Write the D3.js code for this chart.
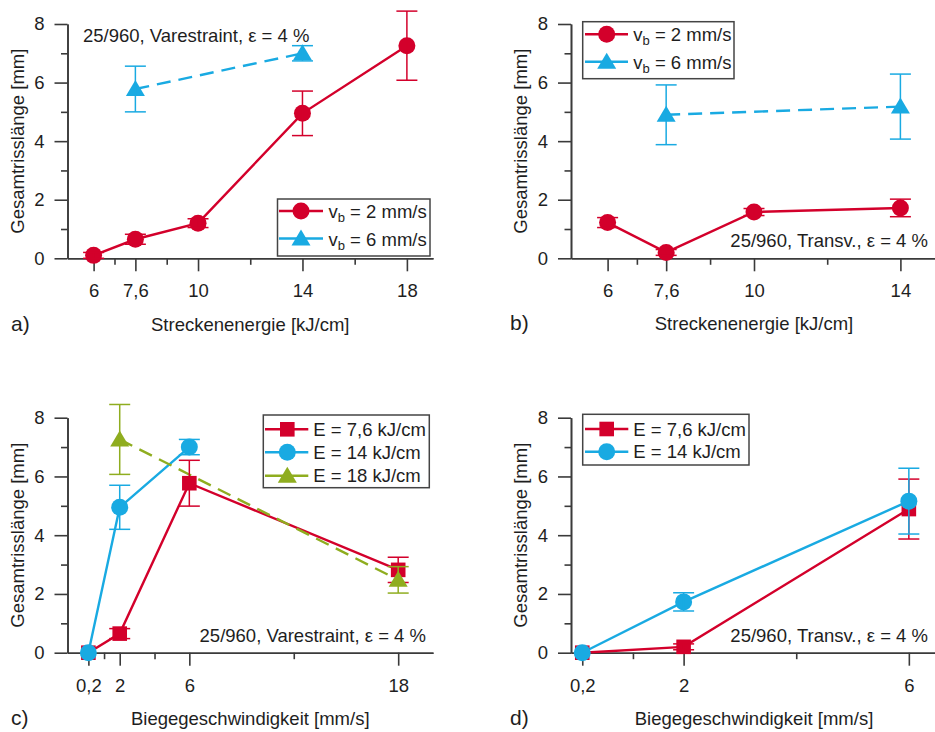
<!DOCTYPE html>
<html><head><meta charset="utf-8">
<script src="https://cdn.jsdelivr.net/npm/d3@7"></script>
<style>
body{margin:0;background:#fff}
svg{display:block}
text{font-family:"Liberation Sans",Arial,Helvetica,sans-serif;fill:#1e1e1e}
</style>
</head><body>
<svg id="chart" width="935" height="732"></svg>
<script>
// ---------------- DATA ----------------
// Y axis (all panels)
const yMajorTicks = [0, 2, 4, 6, 8];
const yMinorTicks = [1, 3, 5, 7];

// Panel a) Varestraint, x = Streckenenergie
const xTicksA = [6, 7.6, 10, 14, 18];
const xLabelsA = ["6", "7,6", "10", "14", "18"];
const energyA_vb2 = [6, 7.6, 10, 14, 18];
const lenA_vb2 = [0.1, 0.65, 1.2, 4.95, 7.26];
const errA_vb2 = [0.1, 0.17, 0.15, 0.76, 1.18];
const energyA_vb6 = [7.6, 14];
const lenA_vb6 = [5.78, 7.0];
const errA_vb6 = [0.78, 0.26];

// Panel b) Transv., x = Streckenenergie
const xTicksB = [6, 7.6, 10, 14];
const xLabelsB = ["6", "7,6", "10", "14"];
const energyB_vb2 = [6, 7.6, 10, 14];
const lenB_vb2 = [1.22, 0.2, 1.58, 1.72];
const errB_vb2 = [0.17, 0.1, 0.12, 0.3];
const energyB_vb6 = [7.6, 14];
const lenB_vb6 = [4.9, 5.18];
const errB_vb6 = [1.02, 1.11];

// Panel c) Varestraint, x = Biegegeschwindigkeit
const xTicksC = [0.2, 2, 6, 18];
const xLabelsC = ["0,2", "2", "6", "18"];
const speedC_E76 = [0.2, 2, 6, 18];
const lenC_E76 = [0, 0.65, 5.77, 2.82];
const errC_E76 = [0, 0.17, 0.78, 0.43];
const speedC_E14 = [0.2, 2, 6];
const lenC_E14 = [0, 4.95, 7.0];
const errC_E14 = [0, 0.75, 0.26];
const speedC_E18 = [2, 18];
const lenC_E18 = [7.26, 2.48];
const errC_E18 = [1.19, 0.45];

// Panel d) Transv., x = Biegegeschwindigkeit
const xTicksD = [0.2, 2, 6];
const xLabelsD = ["0,2", "2", "6"];
const speedD_E76 = [0.2, 2, 6];
const lenD_E76 = [0, 0.2, 4.89];
const errD_E76 = [0, 0.1, 1.02];
const speedD_E14 = [0.2, 2, 6];
const lenD_E14 = [0, 1.73, 5.16];
const errD_E14 = [0, 0.31, 1.12];

// Texts
const yTitle = "Gesamtrisslänge [mm]";
const xTitleE = "Streckenenergie [kJ/cm]";
const xTitleV = "Biegegeschwindigkeit [mm/s]";
const noteVar = "25/960, Varestraint, ε = 4 %";
const noteTra = "25/960, Transv., ε = 4 %";

// ---------------- STYLE ----------------
const RED = "#d3002b", BLUE = "#19aae2", GREEN = "#8fad1f";
const AXIS = "#3a3a3a";
const FS = 18.5;

const svg = d3.select("#chart");
svg.append("rect").attr("width", 935).attr("height", 732).attr("fill", "#fff");

function zip(xs, ys, es) { return xs.map((x, i) => ({ x, y: ys[i], e: es[i] })); }

function marker(g, shape, color, cx, cy) {
  if (shape === "circle") {
    g.append("circle").attr("cx", cx).attr("cy", cy).attr("r", 8.5).attr("fill", color);
  } else if (shape === "square") {
    g.append("rect").attr("x", cx - 7.3).attr("y", cy - 7.3).attr("width", 14.6).attr("height", 14.6).attr("fill", color);
  } else {
    const w = 9.5, h = 16;
    g.append("path").attr("d", `M${cx},${cy - h / 2 - 1}L${cx + w},${cy + h / 2 - 1}L${cx - w},${cy + h / 2 - 1}Z`).attr("fill", color);
  }
}

function panel(cfg) {
  const g = svg.append("g");
  const x = d3.scaleLinear().domain(cfg.xDomain).range([cfg.left, cfg.right]);
  const y = d3.scaleLinear().domain([0, 8]).range([cfg.bottom, cfg.top]);

  // axes
  const styleAxis = sel => {
    sel.selectAll("path, line").attr("stroke", AXIS).attr("stroke-width", 1.6);
    sel.selectAll("text").attr("font-size", FS).attr("fill", "#1e1e1e")
      .style("font-family", '"Liberation Sans", Arial, sans-serif');
  };
  const xMinor = d3.pairs(cfg.xTicks).map(([a, b]) => (a + b) / 2);
  g.append("g").attr("transform", `translate(0,${cfg.bottom})`)
    .call(d3.axisBottom(x).tickValues(xMinor).tickSize(6.5).tickSizeOuter(0).tickFormat(""))
    .call(styleAxis);
  g.append("g").attr("transform", `translate(0,${cfg.bottom})`)
    .call(d3.axisBottom(x).tickValues(cfg.xTicks).tickSize(13).tickSizeOuter(0).tickPadding(13)
      .tickFormat((d, i) => cfg.xLabels[i]))
    .call(styleAxis);
  g.append("g").attr("transform", `translate(${cfg.left},0)`)
    .call(d3.axisLeft(y).tickValues(yMinorTicks).tickSize(6.5).tickSizeOuter(0).tickFormat(""))
    .call(styleAxis);
  g.append("g").attr("transform", `translate(${cfg.left},0)`)
    .call(d3.axisLeft(y).tickValues(yMajorTicks).tickSize(13).tickSizeOuter(0).tickPadding(10)
      .tickFormat(d3.format("d")))
    .call(styleAxis);

  // titles
  g.append("text").attr("x", (cfg.left + cfg.right) / 2).attr("y", cfg.xTitleY)
    .attr("text-anchor", "middle").attr("font-size", FS).text(cfg.xTitle);
  g.append("text").attr("transform", `translate(${cfg.left - 44},${(cfg.top + cfg.bottom) / 2}) rotate(-90)`)
    .attr("text-anchor", "middle").attr("font-size", FS).text(yTitle);
  g.append("text").attr("x", cfg.labelX).attr("y", cfg.xTitleY).attr("font-size", 21).text(cfg.label);

  // annotation
  g.append("text").attr("x", cfg.note.x).attr("y", cfg.note.y).attr("text-anchor", cfg.note.anchor)
    .attr("font-size", FS).text(cfg.note.text);

  // series lines
  const line = d3.line().x(d => x(d.x)).y(d => y(d.y));
  cfg.series.forEach(s => {
    g.append("path").datum(s.data).attr("d", line).attr("fill", "none")
      .attr("stroke", s.color).attr("stroke-width", 2.4)
      .attr("stroke-dasharray", s.dashed ? "14,8" : null);
  });
  // markers + error bars
  cfg.series.forEach(s => {
    const mg = g.append("g");
    s.data.forEach(d => {
      marker(mg, s.shape, s.color, x(d.x), y(d.y));
      if (d.e > 0) {
        const cx = x(d.x), y1 = y(d.y - d.e), y2 = y(d.y + d.e);
        mg.append("line").attr("x1", cx).attr("x2", cx).attr("y1", y1).attr("y2", y2)
          .attr("stroke", s.color).attr("stroke-width", 1.5);
        [y1, y2].forEach(yy => mg.append("line").attr("x1", cx - 10.5).attr("x2", cx + 10.5)
          .attr("y1", yy).attr("y2", yy).attr("stroke", s.color).attr("stroke-width", 1.5));
      }
    });
  });

  // legend
  const L = cfg.legend;
  const lg = g.append("g");
  lg.append("rect").attr("x", L.x).attr("y", L.y).attr("width", L.w).attr("height", L.h)
    .attr("fill", "#fff").attr("stroke", "#444").attr("stroke-width", 1.5);
  cfg.series.forEach((s, i) => {
    const ry = L.rows[i];
    lg.append("line").attr("x1", L.s0).attr("x2", L.s1).attr("y1", ry).attr("y2", ry)
      .attr("stroke", s.color).attr("stroke-width", 2.4);
    marker(lg, s.shape, s.color, L.m, ry);
    const t = lg.append("text").attr("x", L.tx).attr("y", ry + L.dy).attr("font-size", FS);
    if (s.sub) {
      t.append("tspan").text(s.name[0]);
      t.append("tspan").attr("font-size", 13).attr("dy", 4).text(s.sub);
      t.append("tspan").attr("dy", -4).text(s.name[1]);
    } else {
      t.text(s.name);
    }
  });
}

panel({
  left: 67.5, right: 433, top: 24, bottom: 258.3, xDomain: [5, 19],
  xTicks: xTicksA, xLabels: xLabelsA, xTitle: xTitleE, xTitleY: 331, label: "a)", labelX: 11,
  note: { x: 83, y: 42, anchor: "start", text: noteVar },
  series: [
    { data: zip(energyA_vb2, lenA_vb2, errA_vb2), color: RED, shape: "circle", name: ["v", " = 2 mm/s"], sub: "b" },
    { data: zip(energyA_vb6, lenA_vb6, errA_vb6), color: BLUE, shape: "triangle", dashed: true, name: ["v", " = 6 mm/s"], sub: "b" }
  ],
  legend: { x: 277.5, y: 199, w: 152.5, h: 57, rows: [211, 238.5], s0: 279, s1: 323, m: 301, tx: 328.5, dy: 7 }
});

panel({
  left: 571, right: 937, top: 24, bottom: 258.3, xDomain: [5, 15],
  xTicks: xTicksB, xLabels: xLabelsB, xTitle: xTitleE, xTitleY: 330, label: "b)", labelX: 510,
  note: { x: 928, y: 246.7, anchor: "end", text: noteTra },
  series: [
    { data: zip(energyB_vb2, lenB_vb2, errB_vb2), color: RED, shape: "circle", name: ["v", " = 2 mm/s"], sub: "b" },
    { data: zip(energyB_vb6, lenB_vb6, errB_vb6), color: BLUE, shape: "triangle", dashed: true, name: ["v", " = 6 mm/s"], sub: "b" }
  ],
  legend: { x: 582.7, y: 21.7, w: 151.3, h: 57, rows: [34.3, 61.7], s0: 585, s1: 628, m: 606.7, tx: 633.3, dy: 7 }
});

panel({
  left: 67.5, right: 433, top: 417.7, bottom: 652.7, xDomain: [-1, 20],
  xTicks: xTicksC, xLabels: xLabelsC, xTitle: xTitleV, xTitleY: 725, label: "c)", labelX: 11,
  note: { x: 426, y: 641.7, anchor: "end", text: noteVar },
  series: [
    { data: zip(speedC_E76, lenC_E76, errC_E76), color: RED, shape: "square", name: "E = 7,6 kJ/cm" },
    { data: zip(speedC_E14, lenC_E14, errC_E14), color: BLUE, shape: "circle", name: "E = 14 kJ/cm" },
    { data: zip(speedC_E18, lenC_E18, errC_E18), color: GREEN, shape: "triangle", dashed: true, name: "E = 18 kJ/cm" }
  ],
  legend: { x: 263.3, y: 415, w: 166, h: 72.7, rows: [429.3, 452.3, 475.7], s0: 265, s1: 308.3, m: 287.3, tx: 313.3, dy: 6.5 }
});

panel({
  left: 571, right: 937, top: 417.7, bottom: 652.7, xDomain: [0, 6.5],
  xTicks: xTicksD, xLabels: xLabelsD, xTitle: xTitleV, xTitleY: 725, label: "d)", labelX: 510,
  note: { x: 928, y: 641.7, anchor: "end", text: noteTra },
  series: [
    { data: zip(speedD_E76, lenD_E76, errD_E76), color: RED, shape: "square", name: "E = 7,6 kJ/cm" },
    { data: zip(speedD_E14, lenD_E14, errD_E14), color: BLUE, shape: "circle", name: "E = 14 kJ/cm" }
  ],
  legend: { x: 582.7, y: 414.3, w: 166.3, h: 50.7, rows: [429, 451.7], s0: 585, s1: 628.3, m: 606.7, tx: 633.3, dy: 6.5 }
});
</script>
</body></html>
